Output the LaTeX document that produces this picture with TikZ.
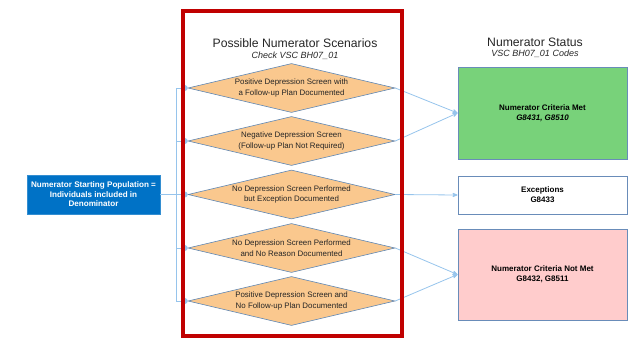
\documentclass[tikz,border=0pt]{standalone}
\usepackage{fontspec}
\setmainfont{Liberation Sans}
\usetikzlibrary{arrows,shapes.geometric,positioning}

\definecolor{popblue}{RGB}{0,114,198}
\definecolor{diamfill}{RGB}{250,200,142}
\definecolor{diamline}{RGB}{95,135,180}
\definecolor{boxline}{RGB}{105,140,185}
\definecolor{metgreen}{RGB}{120,210,122}
\definecolor{notmetpink}{RGB}{255,204,204}
\definecolor{linkblue}{RGB}{150,196,236}
\definecolor{framered}{RGB}{192,0,0}
\definecolor{darktext}{RGB}{38,38,38}

\begin{document}
\begin{tikzpicture}[x=1pt,y=-1pt,>=stealth',
   scenario/.style={diamond,draw=diamline,line width=0.6pt,fill=diamfill,inner sep=0pt,
      shape aspect=4.2,minimum width=207pt,minimum height=49pt,align=center,
      text=darktext,font=\fontsize{7.9}{10.6}\selectfont},
   status/.style={rectangle,draw=boxline,line width=0.9pt,minimum width=169pt,align=center,
      text=black,font=\fontsize{8}{10}\selectfont\bfseries},
   heading/.style={text=darktext,font=\fontsize{12.2}{14}\selectfont},
   subheading/.style={text=darktext,font=\fontsize{9}{11}\selectfont\itshape},
   link/.style={color=linkblue,line width=0.8pt},
   frame/.style={draw=framered,line width=4pt}]
   \useasboundingbox (0,0) rectangle (636,340);

   % starting population
   \node[rectangle,fill=popblue,draw=popblue!80!white,text=white,align=center,
         minimum width=133pt,minimum height=39pt,inner sep=1pt,
         font=\fontsize{8.1}{9.4}\selectfont\bfseries]
         (start) at (93.5,194.5) {Numerator Starting Population =\\Individuals included in\\Denominator};
   \coordinate (hub) at (176,194.5);

   % scenarios
   \node[heading]    (scentitle) at (295,43) {Possible Numerator Scenarios};
   \node[subheading] (scensub)   at (295,56) {Check VSC BH07\_01};
   \node[scenario] (d1) at (291.5,88)  {Positive Depression Screen with\\a Follow-up Plan Documented};
   \node[scenario] (d2) at (291.5,141) {Negative Depression Screen\\(Follow-up Plan Not Required)};
   \node[scenario] (d3) at (291.5,194.5) {No Depression Screen Performed\\but Exception Documented};
   \node[scenario] (d4) at (291.5,248) {No Depression Screen Performed\\and No Reason Documented};
   \node[scenario] (d5) at (291.5,301) {Positive Depression Screen and\\No Follow-up Plan Documented};

   % status
   \node[heading]    (stattitle) at (535,42) {Numerator Status};
   \node[subheading] (statsub)   at (535,54) {VSC BH07\_01 Codes};
   \node[status,fill=metgreen,minimum height=92pt]   (met)    at (542.5,113)   {Numerator Criteria Met\\\textit{G8431, G8510}};
   \node[status,fill=white,minimum height=38pt]      (except) at (542.5,195)   {Exceptions\\G8433};
   \node[status,fill=notmetpink,minimum height=91pt] (notmet) at (542.5,274.5) {Numerator Criteria Not Met\\G8432, G8511};

   % connectors
   \draw[link] (start.east) -- (hub);
   \draw[link,-*] (hub) |- (d1.west);
   \draw[link,-*] (hub) |- (d2.west);
   \draw[link,-*] (hub) -- (d3.west);
   \draw[link,-*] (hub) |- (d4.west);
   \draw[link,-*] (hub) |- (d5.west);

   \path[link,->] (d1.east) edge (met.west)
                  (d2.east) edge (met.west)
                  (d3.east) edge (except.west)
                  (d4.east) edge (notmet.west)
                  (d5.east) edge (notmet.west);

   \draw[frame] (182.5,10.5) rectangle (402,335.5);
\end{tikzpicture}
\end{document}
